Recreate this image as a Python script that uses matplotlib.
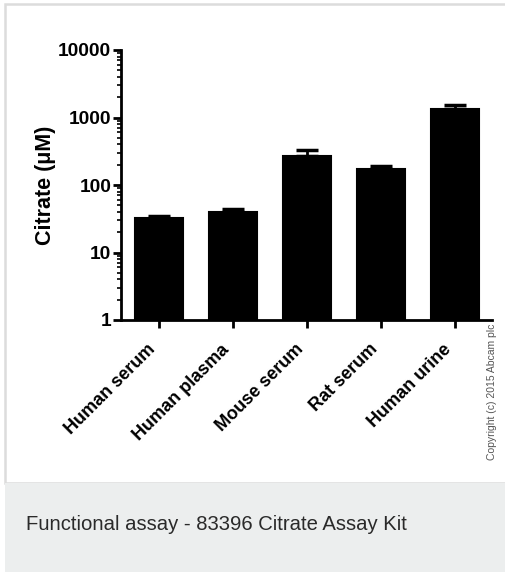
import numpy as np
import matplotlib.pyplot as plt
from matplotlib.patches import Rectangle
from matplotlib.ticker import LogLocator, NullFormatter, FixedLocator, FixedFormatter

plt.rcParams['font.family'] = ['Liberation Sans', 'DejaVu Sans']

samples = ['Human serum', 'Human plasma', 'Mouse serum', 'Rat serum', 'Human urine']
citrate = [32, 40, 270, 171, 1330]
citrate_err = [3, 3.5, 60, 20, 200]
yticks = [1, 10, 100, 1000, 10000]

W, H = 506, 573
fig = plt.figure(figsize=(W / 100, H / 100), dpi=100)

# page frame: white panel with light border, grey caption strip below
fig.patches.append(Rectangle((5 / W, 1 - 483 / H), 501 / W, 479 / H, transform=fig.transFigure,
                             facecolor='white', edgecolor='#dcdcdc', lw=1.8, zorder=-2))
fig.patches.append(Rectangle((5 / W, 1 - 572 / H), 501 / W, 89 / H, transform=fig.transFigure,
                             facecolor='#eceeee', edgecolor='none', zorder=-1))
fig.text(26 / W, 1 - 525 / H, 'Functional assay - 83396 Citrate Assay Kit',
         fontsize=14.6, color='#2a2a2a', va='center', ha='left')

ax = fig.add_axes([121 / W, 1 - 320 / H, 371 / W, 270 / H])
ax.set_facecolor('none')
x = np.arange(len(samples))
ax.bar(x, citrate, width=0.65, color='black', edgecolor='black', linewidth=1.5, zorder=2)
ax.errorbar(x, citrate, yerr=[np.zeros(len(x)), citrate_err], fmt='none', ecolor='black',
            elinewidth=2, capsize=8, capthick=2.5, zorder=3)

ax.set_yscale('log')
ax.set_ylim(1, 10000)
ax.set_xlim(-0.51, 4.5)
ax.yaxis.set_major_locator(FixedLocator(yticks))
ax.yaxis.set_major_formatter(FixedFormatter([str(v) for v in yticks]))
ax.yaxis.set_minor_locator(LogLocator(base=10, subs=np.arange(2, 10)))
ax.yaxis.set_minor_formatter(NullFormatter())

ax.set_xticks(x)
ax.set_xticklabels(samples, rotation=45, ha='right', rotation_mode='default',
                   fontsize=13, fontweight='bold')
for lbl in ax.get_yticklabels():
    lbl.set_fontweight('bold')
    lbl.set_fontsize(13.8)

ax.spines['top'].set_visible(False)
ax.spines['right'].set_visible(False)
ax.spines['left'].set_linewidth(2)
ax.spines['bottom'].set_linewidth(2)
ax.tick_params(axis='y', which='major', length=6, width=2, pad=1)
ax.tick_params(axis='x', which='major', length=6, width=2, pad=9)
ax.tick_params(axis='y', which='minor', length=3, width=1.2)

ax.set_ylabel('Citrate (\u03bcM)', fontsize=15.5, fontweight='bold')
ax.yaxis.set_label_coords(-65 / 371, 0.5)

fig.text(492 / W, 1 - 392 / H, 'Copyright (c) 2015 Abcam plc', rotation=90,
         fontsize=7.5, color='#555555', ha='center', va='center')

fig.savefig('out.png', dpi=100)
